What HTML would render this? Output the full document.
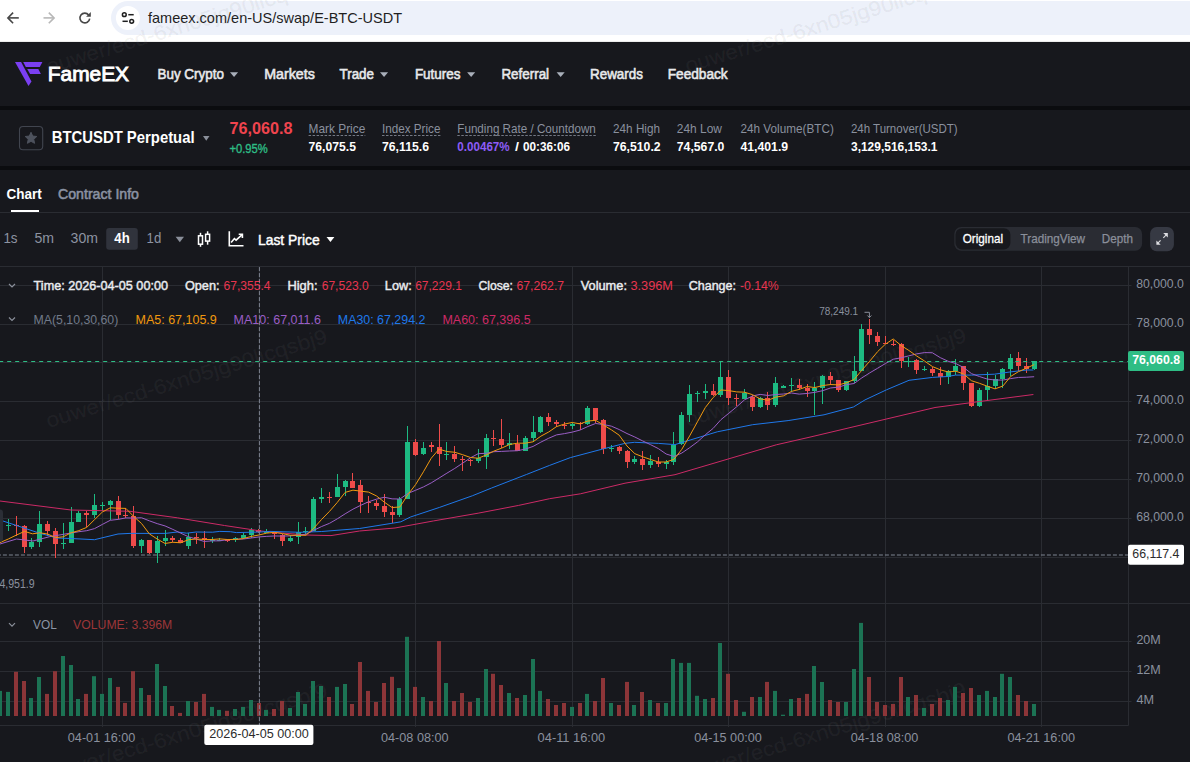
<!DOCTYPE html>
<html><head><meta charset="utf-8"><style>
html,body{margin:0;padding:0;background:#17181d;overflow:hidden;}
svg{display:block;font-family:"Liberation Sans",sans-serif;}
</style></head><body>
<svg width="1190" height="762" viewBox="0 0 1190 762">
<rect x="0" y="0" width="1190" height="762" fill="#17181d"/>
<rect x="0.00" y="0.00" width="1190.00" height="42.00" fill="#ffffff"/>
<rect x="0.00" y="41.00" width="1190.00" height="1.00" fill="#ececec"/>
<rect x="111.00" y="1.00" width="1200.00" height="34.00" fill="#edf1fa" rx="17.00"/>
<circle cx="127.9" cy="17.9" r="12" fill="#ffffff"/>
<g stroke="#1f1f1f" stroke-width="1.5" fill="none"><circle cx="124.3" cy="14.7" r="1.9"/><line x1="128.3" y1="14.7" x2="133.7" y2="14.7"/><circle cx="131.7" cy="21.3" r="1.9"/><line x1="122.5" y1="21.3" x2="127.8" y2="21.3"/></g>
<g stroke="#474747" stroke-width="1.6" fill="none" stroke-linecap="butt"><line x1="8" y1="17.9" x2="18.8" y2="17.9"/><polyline points="13.1,12.6 7.9,17.9 13.1,23.2"/></g>
<g stroke="#b8b8b8" stroke-width="1.6" fill="none" stroke-linecap="butt"><line x1="43.5" y1="17.9" x2="54" y2="17.9"/><polyline points="48.8,12.6 54.1,17.9 48.8,23.2"/></g>
<path d="M 89.71 18.66 A 4.9 4.9 0 1 1 88.67 14.90" stroke="#474747" stroke-width="1.6" fill="none"/><path d="M 90.8 12 L 90.8 16.7 L 86.1 16.7 Z" fill="#474747"/>
<text x="148.00" y="22.80" font-size="14.50" fill="#1f1f1f" textLength="254.00" lengthAdjust="spacingAndGlyphs">fameex.com/en-US/swap/E-BTC-USDT</text>
<rect x="0.00" y="42.00" width="1190.00" height="64.00" fill="#17181d"/>
<rect x="0.00" y="106.00" width="1190.00" height="4.00" fill="#0b0c0f"/>
<g fill="#7b3ff2"><polygon points="15,61.9 21.1,61.9 31.5,81.5 28.5,86"/><polygon points="23.2,61.9 42.4,61.9 39.8,66.9 25.8,66.9"/><polygon points="27.2,69 38.3,69 40.9,74 30.1,74"/></g>
<text x="47.80" y="80.80" font-size="20.50" fill="#ffffff" textLength="81.20" lengthAdjust="spacingAndGlyphs" stroke="#ffffff" stroke-width="0.90">FameEX</text>
<text x="157.50" y="79.40" font-size="15.40" fill="#e8e9eb" textLength="66.40" lengthAdjust="spacingAndGlyphs" stroke="#e8e9eb" stroke-width="0.60">Buy Crypto</text>
<polygon points="230.00,72.20 238.10,72.20 234.05,77.10" fill="#a9afba"/>
<text x="264.20" y="79.40" font-size="15.40" fill="#e8e9eb" textLength="50.60" lengthAdjust="spacingAndGlyphs" stroke="#e8e9eb" stroke-width="0.60">Markets</text>
<text x="339.50" y="79.40" font-size="15.40" fill="#e8e9eb" textLength="34.50" lengthAdjust="spacingAndGlyphs" stroke="#e8e9eb" stroke-width="0.60">Trade</text>
<polygon points="380.00,72.20 388.10,72.20 384.05,77.10" fill="#a9afba"/>
<text x="414.90" y="79.40" font-size="15.40" fill="#e8e9eb" textLength="45.70" lengthAdjust="spacingAndGlyphs" stroke="#e8e9eb" stroke-width="0.60">Futures</text>
<polygon points="467.10,72.20 475.20,72.20 471.15,77.10" fill="#a9afba"/>
<text x="501.40" y="79.40" font-size="15.40" fill="#e8e9eb" textLength="47.70" lengthAdjust="spacingAndGlyphs" stroke="#e8e9eb" stroke-width="0.60">Referral</text>
<polygon points="556.60,72.20 564.70,72.20 560.65,77.10" fill="#a9afba"/>
<text x="590.00" y="79.40" font-size="15.40" fill="#e8e9eb" textLength="52.90" lengthAdjust="spacingAndGlyphs" stroke="#e8e9eb" stroke-width="0.60">Rewards</text>
<text x="667.70" y="79.40" font-size="15.40" fill="#e8e9eb" textLength="60.00" lengthAdjust="spacingAndGlyphs" stroke="#e8e9eb" stroke-width="0.60">Feedback</text>
<rect x="0.00" y="166.00" width="1190.00" height="4.00" fill="#0b0c0f"/>
<rect x="19.50" y="126.50" width="23.20" height="23.20" fill="none" rx="3.50" stroke="#41454f" stroke-width="1.1"/>
<polygon points="31.00,132.30 32.70,136.05 36.80,136.51 33.76,139.30 34.59,143.34 31.00,141.30 27.41,143.34 28.24,139.30 25.20,136.51 29.30,136.05" fill="#4d525d" stroke="#4d525d" stroke-width="1" stroke-linejoin="round"/>
<text x="51.70" y="142.80" font-size="16.50" fill="#ffffff" font-weight="bold" textLength="142.90" lengthAdjust="spacingAndGlyphs">BTCUSDT Perpetual</text>
<polygon points="203.00,136.00 209.50,136.00 206.25,140.80" fill="#8a8f9a"/>
<text x="229.40" y="134.00" font-size="16.50" fill="#f0444e" font-weight="bold" textLength="63.00" lengthAdjust="spacingAndGlyphs">76,060.8</text>
<text x="229.40" y="153.40" font-size="12.00" fill="#2ebd85" textLength="38.30" lengthAdjust="spacingAndGlyphs" stroke="#2ebd85" stroke-width="0.35">+0.95%</text>
<text x="308.60" y="133.00" font-size="12.60" fill="#8a909d" textLength="56.70" lengthAdjust="spacingAndGlyphs">Mark Price</text>
<line x1="308.60" y1="135.50" x2="365.30" y2="135.50" stroke="#747985" stroke-width="1.00" stroke-dasharray="2.5 1.5"/>
<text x="382.00" y="133.00" font-size="12.60" fill="#8a909d" textLength="58.40" lengthAdjust="spacingAndGlyphs">Index Price</text>
<line x1="382.00" y1="135.50" x2="440.40" y2="135.50" stroke="#747985" stroke-width="1.00" stroke-dasharray="2.5 1.5"/>
<text x="457.30" y="133.00" font-size="12.60" fill="#8a909d" textLength="138.50" lengthAdjust="spacingAndGlyphs">Funding Rate / Countdown</text>
<line x1="457.30" y1="135.50" x2="595.80" y2="135.50" stroke="#747985" stroke-width="1.00" stroke-dasharray="2.5 1.5"/>
<text x="613.10" y="133.00" font-size="12.60" fill="#8a909d" textLength="46.90" lengthAdjust="spacingAndGlyphs">24h High</text>
<text x="676.80" y="133.00" font-size="12.60" fill="#8a909d" textLength="45.10" lengthAdjust="spacingAndGlyphs">24h Low</text>
<text x="740.50" y="133.00" font-size="12.60" fill="#8a909d" textLength="93.30" lengthAdjust="spacingAndGlyphs">24h Volume(BTC)</text>
<text x="850.90" y="133.00" font-size="12.60" fill="#8a909d" textLength="106.70" lengthAdjust="spacingAndGlyphs">24h Turnover(USDT)</text>
<text x="308.60" y="151.10" font-size="12.75" fill="#ffffff" font-weight="bold" textLength="47.30" lengthAdjust="spacingAndGlyphs">76,075.5</text>
<text x="382.00" y="151.10" font-size="12.75" fill="#ffffff" font-weight="bold" textLength="47.00" lengthAdjust="spacingAndGlyphs">76,115.6</text>
<text x="457.30" y="151.10" font-size="12.75" fill="#8d5cf6" font-weight="bold" textLength="52.40" lengthAdjust="spacingAndGlyphs">0.00467%</text>
<text x="515.00" y="151.10" font-size="12.75" fill="#ffffff" font-weight="bold" textLength="4.00" lengthAdjust="spacingAndGlyphs">/</text>
<text x="523.00" y="151.10" font-size="12.75" fill="#ffffff" font-weight="bold" textLength="47.00" lengthAdjust="spacingAndGlyphs">00:36:06</text>
<text x="613.00" y="151.10" font-size="12.75" fill="#ffffff" font-weight="bold" textLength="47.60" lengthAdjust="spacingAndGlyphs">76,510.2</text>
<text x="676.80" y="151.10" font-size="12.75" fill="#ffffff" font-weight="bold" textLength="47.60" lengthAdjust="spacingAndGlyphs">74,567.0</text>
<text x="740.50" y="151.10" font-size="12.75" fill="#ffffff" font-weight="bold" textLength="47.60" lengthAdjust="spacingAndGlyphs">41,401.9</text>
<text x="851.00" y="151.10" font-size="12.75" fill="#ffffff" font-weight="bold" textLength="86.40" lengthAdjust="spacingAndGlyphs">3,129,516,153.1</text>
<text x="6.50" y="198.80" font-size="14.20" fill="#ffffff" font-weight="bold" textLength="35.30" lengthAdjust="spacingAndGlyphs">Chart</text>
<text x="58.00" y="198.80" font-size="14.20" fill="#8b92a2" textLength="81.00" lengthAdjust="spacingAndGlyphs" stroke="#8b92a2" stroke-width="0.55">Contract Info</text>
<rect x="11.00" y="210.00" width="28.00" height="2.00" fill="#ffffff"/>
<rect x="0.00" y="212.00" width="1190.00" height="1.00" fill="#2a2c32"/>
<text x="3.40" y="243.00" font-size="14.60" fill="#8d93a1" textLength="14.20" lengthAdjust="spacingAndGlyphs">1s</text>
<text x="34.50" y="243.00" font-size="14.60" fill="#8d93a1" textLength="19.60" lengthAdjust="spacingAndGlyphs">5m</text>
<text x="70.60" y="243.00" font-size="14.60" fill="#8d93a1" textLength="27.40" lengthAdjust="spacingAndGlyphs">30m</text>
<rect x="106.20" y="227.90" width="31.60" height="21.80" fill="#30333c" rx="3.00"/>
<text x="114.30" y="243.00" font-size="14.60" fill="#ffffff" font-weight="bold" textLength="15.40" lengthAdjust="spacingAndGlyphs">4h</text>
<text x="146.60" y="243.00" font-size="14.60" fill="#8d93a1" textLength="14.70" lengthAdjust="spacingAndGlyphs">1d</text>
<polygon points="175.60,236.80 184.00,236.80 179.80,242.20" fill="#8a8f9a"/>
<g stroke="#ffffff" stroke-width="1.5" fill="none"><rect x="198.5" y="235.8" width="4" height="8.4"/><line x1="200.5" y1="232.8" x2="200.5" y2="235.8"/><line x1="200.5" y1="244.2" x2="200.5" y2="246.8"/><rect x="205.6" y="234.3" width="4" height="6.8"/><line x1="207.6" y1="231.3" x2="207.6" y2="234.3"/><line x1="207.6" y1="241.1" x2="207.6" y2="244.7"/></g>
<g stroke="#ffffff" stroke-width="1.6" fill="none"><polyline points="229.3,231.3 229.3,245.7 243.5,245.7"/><polyline points="231.1,242.6 234.4,238.6 236.1,240.1 241.9,234.8"/><polyline points="238.7,234.3 242.4,234.3 242.4,237.9"/></g>
<text x="258.00" y="245.00" font-size="14.90" fill="#ffffff" textLength="61.70" lengthAdjust="spacingAndGlyphs" stroke="#ffffff" stroke-width="0.45">Last Price</text>
<polygon points="326.50,237.00 334.40,237.00 330.45,242.00" fill="#ffffff"/>
<rect x="954.30" y="227.00" width="187.80" height="23.70" fill="#2a2c33" rx="7.00"/>
<rect x="955.50" y="228.20" width="54.90" height="21.30" fill="#17181d" rx="6.50"/>
<text x="962.70" y="243.20" font-size="12.60" fill="#ffffff" textLength="40.30" lengthAdjust="spacingAndGlyphs" stroke="#ffffff" stroke-width="0.30">Original</text>
<text x="1020.50" y="243.20" font-size="12.60" fill="#8a8f9a" textLength="64.50" lengthAdjust="spacingAndGlyphs" stroke="#8a8f9a" stroke-width="0.25">TradingView</text>
<text x="1101.80" y="243.20" font-size="12.60" fill="#8a8f9a" textLength="31.10" lengthAdjust="spacingAndGlyphs" stroke="#8a8f9a" stroke-width="0.25">Depth</text>
<rect x="1150.10" y="227.00" width="23.80" height="24.20" fill="#363943" rx="6.50"/>
<g fill="#dcdde1"><polygon points="1163.2,233.1 1167.8,233.1 1167.8,237.5"/><polygon points="1156.4,240.5 1156.4,244.8 1160.7,244.8"/></g><g stroke="#dcdde1" stroke-width="1.1"><line x1="1163.3" y1="237.8" x2="1166" y2="235.1"/><line x1="1160.6" y1="240.3" x2="1157.8" y2="243.1"/></g>
<rect x="0.00" y="266.00" width="1190.00" height="1.00" fill="#2a2c32"/>
<line x1="102.50" y1="266.00" x2="102.50" y2="727.00" stroke="#2a2c32" stroke-width="1.00"/>
<line x1="259.50" y1="266.00" x2="259.50" y2="727.00" stroke="#2a2c32" stroke-width="1.00"/>
<line x1="415.50" y1="266.00" x2="415.50" y2="727.00" stroke="#2a2c32" stroke-width="1.00"/>
<line x1="572.50" y1="266.00" x2="572.50" y2="727.00" stroke="#2a2c32" stroke-width="1.00"/>
<line x1="728.50" y1="266.00" x2="728.50" y2="727.00" stroke="#2a2c32" stroke-width="1.00"/>
<line x1="885.50" y1="266.00" x2="885.50" y2="727.00" stroke="#2a2c32" stroke-width="1.00"/>
<line x1="1041.50" y1="266.00" x2="1041.50" y2="727.00" stroke="#2a2c32" stroke-width="1.00"/>
<line x1="0.00" y1="285.50" x2="1131.50" y2="285.50" stroke="#2a2c32" stroke-width="1.00"/>
<line x1="0.00" y1="324.50" x2="1131.50" y2="324.50" stroke="#2a2c32" stroke-width="1.00"/>
<line x1="0.00" y1="362.50" x2="1131.50" y2="362.50" stroke="#2a2c32" stroke-width="1.00"/>
<line x1="0.00" y1="401.50" x2="1131.50" y2="401.50" stroke="#2a2c32" stroke-width="1.00"/>
<line x1="0.00" y1="440.50" x2="1131.50" y2="440.50" stroke="#2a2c32" stroke-width="1.00"/>
<line x1="0.00" y1="479.50" x2="1131.50" y2="479.50" stroke="#2a2c32" stroke-width="1.00"/>
<line x1="0.00" y1="518.50" x2="1131.50" y2="518.50" stroke="#2a2c32" stroke-width="1.00"/>
<line x1="0.00" y1="557.50" x2="1131.50" y2="557.50" stroke="#2a2c32" stroke-width="1.00"/>
<rect x="0.00" y="603.00" width="1190.00" height="1.00" fill="#2a2c32"/>
<line x1="0.00" y1="641.50" x2="1131.50" y2="641.50" stroke="#2a2c32" stroke-width="1.00"/>
<line x1="0.00" y1="671.50" x2="1131.50" y2="671.50" stroke="#2a2c32" stroke-width="1.00"/>
<line x1="0.00" y1="701.50" x2="1131.50" y2="701.50" stroke="#2a2c32" stroke-width="1.00"/>
<line x1="0.00" y1="725.50" x2="1128.50" y2="725.50" stroke="#2a2c32" stroke-width="1.00"/>
<line x1="1128.50" y1="266.00" x2="1128.50" y2="725.50" stroke="#2a2c32" stroke-width="1.00"/>
<text x="48.5" y="74.0" font-size="20.5" fill="#808080" fill-opacity="0.09" stroke="#808080" stroke-opacity="0.06" stroke-width="0.5" transform="rotate(-17 48.5 74.0)" textLength="293" lengthAdjust="spacingAndGlyphs">ouwer/ecd-6xn05jg90licqsbj9</text>
<text x="687.5" y="73.0" font-size="20.5" fill="#808080" fill-opacity="0.09" stroke="#808080" stroke-opacity="0.06" stroke-width="0.5" transform="rotate(-17 687.5 73.0)" textLength="293" lengthAdjust="spacingAndGlyphs">ouwer/ecd-6xn05jg90licqsbj9</text>
<text x="48.5" y="428.0" font-size="20.5" fill="#808080" fill-opacity="0.09" stroke="#808080" stroke-opacity="0.06" stroke-width="0.5" transform="rotate(-17 48.5 428.0)" textLength="293" lengthAdjust="spacingAndGlyphs">ouwer/ecd-6xn05jg90licqsbj9</text>
<text x="687.5" y="427.0" font-size="20.5" fill="#808080" fill-opacity="0.09" stroke="#808080" stroke-opacity="0.06" stroke-width="0.5" transform="rotate(-17 687.5 427.0)" textLength="293" lengthAdjust="spacingAndGlyphs">ouwer/ecd-6xn05jg90licqsbj9</text>
<text x="48.5" y="782.0" font-size="20.5" fill="#808080" fill-opacity="0.09" stroke="#808080" stroke-opacity="0.06" stroke-width="0.5" transform="rotate(-17 48.5 782.0)" textLength="293" lengthAdjust="spacingAndGlyphs">ouwer/ecd-6xn05jg90licqsbj9</text>
<text x="687.5" y="781.0" font-size="20.5" fill="#808080" fill-opacity="0.09" stroke="#808080" stroke-opacity="0.06" stroke-width="0.5" transform="rotate(-17 687.5 781.0)" textLength="293" lengthAdjust="spacingAndGlyphs">ouwer/ecd-6xn05jg90licqsbj9</text>
<rect x="-2.00" y="690.90" width="4.00" height="25.10" fill="#1c7354"/>
<rect x="6.00" y="691.90" width="4.00" height="24.10" fill="#1c7354"/>
<rect x="14.00" y="671.80" width="4.00" height="44.20" fill="#8c3538"/>
<rect x="22.00" y="681.00" width="4.00" height="35.00" fill="#8c3538"/>
<rect x="29.00" y="698.00" width="4.00" height="18.00" fill="#1c7354"/>
<rect x="37.00" y="677.00" width="4.00" height="39.00" fill="#1c7354"/>
<rect x="45.00" y="693.90" width="4.00" height="22.10" fill="#8c3538"/>
<rect x="53.00" y="671.20" width="4.00" height="44.80" fill="#8c3538"/>
<rect x="61.00" y="656.00" width="4.00" height="60.00" fill="#1c7354"/>
<rect x="69.00" y="665.00" width="4.00" height="51.00" fill="#1c7354"/>
<rect x="76.00" y="699.00" width="4.00" height="17.00" fill="#1c7354"/>
<rect x="84.00" y="693.90" width="4.00" height="22.10" fill="#8c3538"/>
<rect x="92.00" y="676.20" width="4.00" height="39.80" fill="#1c7354"/>
<rect x="100.00" y="693.90" width="4.00" height="22.10" fill="#1c7354"/>
<rect x="108.00" y="678.00" width="4.00" height="38.00" fill="#1c7354"/>
<rect x="116.00" y="686.90" width="4.00" height="29.10" fill="#8c3538"/>
<rect x="123.00" y="702.90" width="4.00" height="13.10" fill="#8c3538"/>
<rect x="131.00" y="671.20" width="4.00" height="44.80" fill="#8c3538"/>
<rect x="139.00" y="688.00" width="4.00" height="28.00" fill="#1c7354"/>
<rect x="147.00" y="695.00" width="4.00" height="21.00" fill="#8c3538"/>
<rect x="155.00" y="664.00" width="4.00" height="52.00" fill="#1c7354"/>
<rect x="163.00" y="686.00" width="4.00" height="30.00" fill="#1c7354"/>
<rect x="170.00" y="706.00" width="4.00" height="10.00" fill="#8c3538"/>
<rect x="178.00" y="712.90" width="4.00" height="3.10" fill="#8c3538"/>
<rect x="186.00" y="701.00" width="4.00" height="15.00" fill="#1c7354"/>
<rect x="194.00" y="702.00" width="4.00" height="14.00" fill="#8c3538"/>
<rect x="202.00" y="693.90" width="4.00" height="22.10" fill="#8c3538"/>
<rect x="210.00" y="706.90" width="4.00" height="9.10" fill="#1c7354"/>
<rect x="217.00" y="709.90" width="4.00" height="6.10" fill="#1c7354"/>
<rect x="225.00" y="710.80" width="4.00" height="5.20" fill="#8c3538"/>
<rect x="233.00" y="709.00" width="4.00" height="7.00" fill="#1c7354"/>
<rect x="241.00" y="706.90" width="4.00" height="9.10" fill="#1c7354"/>
<rect x="249.00" y="700.00" width="4.00" height="16.00" fill="#1c7354"/>
<rect x="257.00" y="703.00" width="4.00" height="13.00" fill="#8c3538"/>
<rect x="264.00" y="709.90" width="4.00" height="6.10" fill="#1c7354"/>
<rect x="272.00" y="709.00" width="4.00" height="7.00" fill="#8c3538"/>
<rect x="280.00" y="701.00" width="4.00" height="15.00" fill="#8c3538"/>
<rect x="288.00" y="708.00" width="4.00" height="8.00" fill="#1c7354"/>
<rect x="296.00" y="692.00" width="4.00" height="24.00" fill="#1c7354"/>
<rect x="303.00" y="704.00" width="4.00" height="12.00" fill="#1c7354"/>
<rect x="311.00" y="681.00" width="4.00" height="35.00" fill="#1c7354"/>
<rect x="319.00" y="686.00" width="4.00" height="30.00" fill="#1c7354"/>
<rect x="327.00" y="697.00" width="4.00" height="19.00" fill="#8c3538"/>
<rect x="335.00" y="686.90" width="4.00" height="29.10" fill="#1c7354"/>
<rect x="343.00" y="684.00" width="4.00" height="32.00" fill="#1c7354"/>
<rect x="350.00" y="704.00" width="4.00" height="12.00" fill="#8c3538"/>
<rect x="358.00" y="662.00" width="4.00" height="54.00" fill="#8c3538"/>
<rect x="366.00" y="690.90" width="4.00" height="25.10" fill="#8c3538"/>
<rect x="374.00" y="702.00" width="4.00" height="14.00" fill="#8c3538"/>
<rect x="382.00" y="683.00" width="4.00" height="33.00" fill="#8c3538"/>
<rect x="390.00" y="676.80" width="4.00" height="39.20" fill="#8c3538"/>
<rect x="397.00" y="688.00" width="4.00" height="28.00" fill="#1c7354"/>
<rect x="405.00" y="636.80" width="4.00" height="79.20" fill="#1c7354"/>
<rect x="413.00" y="686.90" width="4.00" height="29.10" fill="#8c3538"/>
<rect x="421.00" y="697.00" width="4.00" height="19.00" fill="#1c7354"/>
<rect x="429.00" y="701.00" width="4.00" height="15.00" fill="#8c3538"/>
<rect x="437.00" y="641.00" width="4.00" height="75.00" fill="#8c3538"/>
<rect x="444.00" y="683.00" width="4.00" height="33.00" fill="#1c7354"/>
<rect x="452.00" y="701.00" width="4.00" height="15.00" fill="#8c3538"/>
<rect x="460.00" y="693.00" width="4.00" height="23.00" fill="#8c3538"/>
<rect x="468.00" y="702.00" width="4.00" height="14.00" fill="#8c3538"/>
<rect x="476.00" y="698.00" width="4.00" height="18.00" fill="#1c7354"/>
<rect x="484.00" y="669.00" width="4.00" height="47.00" fill="#1c7354"/>
<rect x="491.00" y="673.80" width="4.00" height="42.20" fill="#8c3538"/>
<rect x="499.00" y="685.00" width="4.00" height="31.00" fill="#8c3538"/>
<rect x="507.00" y="693.00" width="4.00" height="23.00" fill="#1c7354"/>
<rect x="515.00" y="698.00" width="4.00" height="18.00" fill="#8c3538"/>
<rect x="523.00" y="695.00" width="4.00" height="21.00" fill="#1c7354"/>
<rect x="531.00" y="659.00" width="4.00" height="57.00" fill="#1c7354"/>
<rect x="538.00" y="690.90" width="4.00" height="25.10" fill="#1c7354"/>
<rect x="546.00" y="699.00" width="4.00" height="17.00" fill="#8c3538"/>
<rect x="554.00" y="705.00" width="4.00" height="11.00" fill="#8c3538"/>
<rect x="562.00" y="703.00" width="4.00" height="13.00" fill="#8c3538"/>
<rect x="570.00" y="706.90" width="4.00" height="9.10" fill="#1c7354"/>
<rect x="578.00" y="703.00" width="4.00" height="13.00" fill="#8c3538"/>
<rect x="585.00" y="693.90" width="4.00" height="22.10" fill="#1c7354"/>
<rect x="593.00" y="701.00" width="4.00" height="15.00" fill="#8c3538"/>
<rect x="601.00" y="678.00" width="4.00" height="38.00" fill="#8c3538"/>
<rect x="609.00" y="703.00" width="4.00" height="13.00" fill="#1c7354"/>
<rect x="617.00" y="705.00" width="4.00" height="11.00" fill="#8c3538"/>
<rect x="625.00" y="681.90" width="4.00" height="34.10" fill="#8c3538"/>
<rect x="632.00" y="705.00" width="4.00" height="11.00" fill="#1c7354"/>
<rect x="640.00" y="692.00" width="4.00" height="24.00" fill="#8c3538"/>
<rect x="648.00" y="700.00" width="4.00" height="16.00" fill="#1c7354"/>
<rect x="656.00" y="703.00" width="4.00" height="13.00" fill="#8c3538"/>
<rect x="664.00" y="703.00" width="4.00" height="13.00" fill="#1c7354"/>
<rect x="671.00" y="659.00" width="4.00" height="57.00" fill="#1c7354"/>
<rect x="679.00" y="662.90" width="4.00" height="53.10" fill="#1c7354"/>
<rect x="687.00" y="662.90" width="4.00" height="53.10" fill="#1c7354"/>
<rect x="695.00" y="695.80" width="4.00" height="20.20" fill="#1c7354"/>
<rect x="703.00" y="699.00" width="4.00" height="17.00" fill="#1c7354"/>
<rect x="711.00" y="698.00" width="4.00" height="18.00" fill="#8c3538"/>
<rect x="718.00" y="643.00" width="4.00" height="73.00" fill="#1c7354"/>
<rect x="726.00" y="673.80" width="4.00" height="42.20" fill="#8c3538"/>
<rect x="734.00" y="700.00" width="4.00" height="16.00" fill="#8c3538"/>
<rect x="742.00" y="711.80" width="4.00" height="4.20" fill="#1c7354"/>
<rect x="750.00" y="697.00" width="4.00" height="19.00" fill="#8c3538"/>
<rect x="758.00" y="697.00" width="4.00" height="19.00" fill="#1c7354"/>
<rect x="765.00" y="681.90" width="4.00" height="34.10" fill="#8c3538"/>
<rect x="773.00" y="690.90" width="4.00" height="25.10" fill="#1c7354"/>
<rect x="781.00" y="714.70" width="4.00" height="1.30" fill="#1c7354"/>
<rect x="789.00" y="699.00" width="4.00" height="17.00" fill="#1c7354"/>
<rect x="797.00" y="698.00" width="4.00" height="18.00" fill="#8c3538"/>
<rect x="805.00" y="693.90" width="4.00" height="22.10" fill="#8c3538"/>
<rect x="812.00" y="666.00" width="4.00" height="50.00" fill="#1c7354"/>
<rect x="820.00" y="682.00" width="4.00" height="34.00" fill="#1c7354"/>
<rect x="828.00" y="700.00" width="4.00" height="16.00" fill="#8c3538"/>
<rect x="836.00" y="702.00" width="4.00" height="14.00" fill="#8c3538"/>
<rect x="844.00" y="702.00" width="4.00" height="14.00" fill="#1c7354"/>
<rect x="852.00" y="669.00" width="4.00" height="47.00" fill="#1c7354"/>
<rect x="859.00" y="622.90" width="4.00" height="93.10" fill="#1c7354"/>
<rect x="867.00" y="677.00" width="4.00" height="39.00" fill="#8c3538"/>
<rect x="875.00" y="702.00" width="4.00" height="14.00" fill="#8c3538"/>
<rect x="883.00" y="705.00" width="4.00" height="11.00" fill="#8c3538"/>
<rect x="891.00" y="704.00" width="4.00" height="12.00" fill="#8c3538"/>
<rect x="899.00" y="677.00" width="4.00" height="39.00" fill="#8c3538"/>
<rect x="906.00" y="697.00" width="4.00" height="19.00" fill="#1c7354"/>
<rect x="914.00" y="695.00" width="4.00" height="21.00" fill="#8c3538"/>
<rect x="922.00" y="708.00" width="4.00" height="8.00" fill="#1c7354"/>
<rect x="930.00" y="704.00" width="4.00" height="12.00" fill="#8c3538"/>
<rect x="938.00" y="698.00" width="4.00" height="18.00" fill="#8c3538"/>
<rect x="946.00" y="700.00" width="4.00" height="16.00" fill="#1c7354"/>
<rect x="953.00" y="686.90" width="4.00" height="29.10" fill="#1c7354"/>
<rect x="961.00" y="693.00" width="4.00" height="23.00" fill="#8c3538"/>
<rect x="969.00" y="688.00" width="4.00" height="28.00" fill="#8c3538"/>
<rect x="977.00" y="695.00" width="4.00" height="21.00" fill="#1c7354"/>
<rect x="985.00" y="690.90" width="4.00" height="25.10" fill="#1c7354"/>
<rect x="993.00" y="697.00" width="4.00" height="19.00" fill="#1c7354"/>
<rect x="1000.00" y="673.80" width="4.00" height="42.20" fill="#1c7354"/>
<rect x="1008.00" y="677.00" width="4.00" height="39.00" fill="#1c7354"/>
<rect x="1016.00" y="695.00" width="4.00" height="21.00" fill="#8c3538"/>
<rect x="1024.00" y="701.00" width="4.00" height="15.00" fill="#8c3538"/>
<rect x="1032.00" y="704.00" width="4.00" height="12.00" fill="#1c7354"/>
<g shape-rendering="crispEdges">
<rect x="8.00" y="519.00" width="1.00" height="12.00" fill="#1dba82"/>
<rect x="6.00" y="525.00" width="5.00" height="1.00" fill="#1dba82"/>
<rect x="16.00" y="516.00" width="1.00" height="19.50" fill="#ee4b4a"/>
<rect x="14.00" y="525.00" width="5.00" height="1.00" fill="#ee4b4a"/>
<rect x="24.00" y="525.00" width="1.00" height="28.00" fill="#ee4b4a"/>
<rect x="22.00" y="526.00" width="5.00" height="21.00" fill="#ee4b4a"/>
<rect x="31.00" y="538.00" width="1.00" height="11.00" fill="#1dba82"/>
<rect x="29.00" y="542.00" width="5.00" height="5.00" fill="#1dba82"/>
<rect x="39.00" y="511.00" width="1.00" height="36.00" fill="#1dba82"/>
<rect x="37.00" y="524.00" width="5.00" height="17.70" fill="#1dba82"/>
<rect x="47.00" y="521.00" width="1.00" height="14.50" fill="#ee4b4a"/>
<rect x="45.00" y="524.00" width="5.00" height="7.00" fill="#ee4b4a"/>
<rect x="55.00" y="528.00" width="1.00" height="30.00" fill="#ee4b4a"/>
<rect x="53.00" y="531.00" width="5.00" height="13.00" fill="#ee4b4a"/>
<rect x="63.00" y="523.00" width="1.00" height="26.00" fill="#1dba82"/>
<rect x="61.00" y="543.00" width="5.00" height="1.00" fill="#1dba82"/>
<rect x="71.00" y="507.00" width="1.00" height="36.00" fill="#1dba82"/>
<rect x="69.00" y="522.00" width="5.00" height="21.00" fill="#1dba82"/>
<rect x="78.00" y="511.00" width="1.00" height="11.00" fill="#1dba82"/>
<rect x="76.00" y="513.00" width="5.00" height="9.00" fill="#1dba82"/>
<rect x="86.00" y="511.00" width="1.00" height="16.00" fill="#ee4b4a"/>
<rect x="84.00" y="513.40" width="5.00" height="1.60" fill="#ee4b4a"/>
<rect x="94.00" y="494.00" width="1.00" height="24.00" fill="#1dba82"/>
<rect x="92.00" y="505.00" width="5.00" height="10.00" fill="#1dba82"/>
<rect x="102.00" y="502.00" width="1.00" height="9.00" fill="#1dba82"/>
<rect x="100.00" y="505.00" width="5.00" height="1.00" fill="#1dba82"/>
<rect x="110.00" y="500.00" width="1.00" height="20.00" fill="#1dba82"/>
<rect x="108.00" y="501.00" width="5.00" height="4.00" fill="#1dba82"/>
<rect x="118.00" y="496.00" width="1.00" height="23.00" fill="#ee4b4a"/>
<rect x="116.00" y="501.00" width="5.00" height="14.00" fill="#ee4b4a"/>
<rect x="125.00" y="508.00" width="1.00" height="10.00" fill="#ee4b4a"/>
<rect x="123.00" y="515.00" width="5.00" height="1.00" fill="#ee4b4a"/>
<rect x="133.00" y="506.00" width="1.00" height="42.00" fill="#ee4b4a"/>
<rect x="131.00" y="516.00" width="5.00" height="29.60" fill="#ee4b4a"/>
<rect x="141.00" y="539.00" width="1.00" height="14.00" fill="#1dba82"/>
<rect x="139.00" y="540.00" width="5.00" height="6.00" fill="#1dba82"/>
<rect x="149.00" y="540.00" width="1.00" height="14.00" fill="#ee4b4a"/>
<rect x="147.00" y="540.00" width="5.00" height="12.70" fill="#ee4b4a"/>
<rect x="157.00" y="536.00" width="1.00" height="26.70" fill="#1dba82"/>
<rect x="155.00" y="541.00" width="5.00" height="11.70" fill="#1dba82"/>
<rect x="165.00" y="530.00" width="1.00" height="15.60" fill="#1dba82"/>
<rect x="163.00" y="538.00" width="5.00" height="3.00" fill="#1dba82"/>
<rect x="172.00" y="536.00" width="1.00" height="6.00" fill="#ee4b4a"/>
<rect x="170.00" y="538.00" width="5.00" height="1.70" fill="#ee4b4a"/>
<rect x="180.00" y="538.00" width="1.00" height="5.00" fill="#ee4b4a"/>
<rect x="178.00" y="540.00" width="5.00" height="2.60" fill="#ee4b4a"/>
<rect x="188.00" y="533.00" width="1.00" height="15.80" fill="#1dba82"/>
<rect x="186.00" y="537.00" width="5.00" height="8.60" fill="#1dba82"/>
<rect x="196.00" y="533.00" width="1.00" height="11.00" fill="#ee4b4a"/>
<rect x="194.00" y="537.30" width="5.00" height="1.00" fill="#ee4b4a"/>
<rect x="204.00" y="531.00" width="1.00" height="17.00" fill="#ee4b4a"/>
<rect x="202.00" y="538.00" width="5.00" height="2.00" fill="#ee4b4a"/>
<rect x="212.00" y="537.00" width="1.00" height="6.00" fill="#1dba82"/>
<rect x="210.00" y="540.00" width="5.00" height="1.00" fill="#1dba82"/>
<rect x="219.00" y="538.00" width="1.00" height="3.00" fill="#1dba82"/>
<rect x="217.00" y="539.50" width="5.00" height="1.00" fill="#1dba82"/>
<rect x="227.00" y="539.00" width="1.00" height="3.00" fill="#ee4b4a"/>
<rect x="225.00" y="539.70" width="5.00" height="1.00" fill="#ee4b4a"/>
<rect x="235.00" y="537.00" width="1.00" height="5.00" fill="#1dba82"/>
<rect x="233.00" y="538.00" width="5.00" height="2.00" fill="#1dba82"/>
<rect x="243.00" y="533.00" width="1.00" height="6.00" fill="#1dba82"/>
<rect x="241.00" y="535.00" width="5.00" height="3.00" fill="#1dba82"/>
<rect x="251.00" y="528.40" width="1.00" height="9.60" fill="#1dba82"/>
<rect x="249.00" y="529.60" width="5.00" height="5.00" fill="#1dba82"/>
<rect x="258.00" y="529.00" width="1.00" height="3.60" fill="#ee4b4a"/>
<rect x="256.00" y="530.00" width="5.00" height="2.00" fill="#ee4b4a"/>
<rect x="266.00" y="529.00" width="1.00" height="4.00" fill="#1dba82"/>
<rect x="264.00" y="531.00" width="5.00" height="1.60" fill="#1dba82"/>
<rect x="274.00" y="531.50" width="1.00" height="7.50" fill="#ee4b4a"/>
<rect x="272.00" y="532.70" width="5.00" height="1.70" fill="#ee4b4a"/>
<rect x="282.00" y="533.80" width="1.00" height="12.20" fill="#ee4b4a"/>
<rect x="280.00" y="535.00" width="5.00" height="6.00" fill="#ee4b4a"/>
<rect x="290.00" y="535.00" width="1.00" height="6.80" fill="#1dba82"/>
<rect x="288.00" y="538.00" width="5.00" height="3.00" fill="#1dba82"/>
<rect x="298.00" y="522.00" width="1.00" height="22.00" fill="#1dba82"/>
<rect x="296.00" y="532.00" width="5.00" height="5.40" fill="#1dba82"/>
<rect x="305.00" y="527.00" width="1.00" height="7.40" fill="#1dba82"/>
<rect x="303.00" y="531.00" width="5.00" height="1.00" fill="#1dba82"/>
<rect x="313.00" y="497.00" width="1.00" height="34.00" fill="#1dba82"/>
<rect x="311.00" y="499.00" width="5.00" height="32.00" fill="#1dba82"/>
<rect x="321.00" y="488.00" width="1.00" height="14.80" fill="#1dba82"/>
<rect x="319.00" y="497.00" width="5.00" height="1.80" fill="#1dba82"/>
<rect x="329.00" y="492.00" width="1.00" height="10.80" fill="#ee4b4a"/>
<rect x="327.00" y="497.00" width="5.00" height="1.00" fill="#ee4b4a"/>
<rect x="337.00" y="474.00" width="1.00" height="22.60" fill="#1dba82"/>
<rect x="335.00" y="487.00" width="5.00" height="9.60" fill="#1dba82"/>
<rect x="345.00" y="480.00" width="1.00" height="15.70" fill="#1dba82"/>
<rect x="343.00" y="481.00" width="5.00" height="6.00" fill="#1dba82"/>
<rect x="352.00" y="472.80" width="1.00" height="15.00" fill="#ee4b4a"/>
<rect x="350.00" y="481.00" width="5.00" height="6.80" fill="#ee4b4a"/>
<rect x="360.00" y="480.00" width="1.00" height="33.00" fill="#ee4b4a"/>
<rect x="358.00" y="485.00" width="5.00" height="17.00" fill="#ee4b4a"/>
<rect x="368.00" y="496.00" width="1.00" height="17.00" fill="#ee4b4a"/>
<rect x="366.00" y="502.00" width="5.00" height="1.00" fill="#ee4b4a"/>
<rect x="376.00" y="499.60" width="1.00" height="10.40" fill="#ee4b4a"/>
<rect x="374.00" y="503.00" width="5.00" height="3.00" fill="#ee4b4a"/>
<rect x="384.00" y="494.00" width="1.00" height="23.00" fill="#ee4b4a"/>
<rect x="382.00" y="506.00" width="5.00" height="6.00" fill="#ee4b4a"/>
<rect x="392.00" y="506.00" width="1.00" height="16.80" fill="#ee4b4a"/>
<rect x="390.00" y="512.00" width="5.00" height="3.00" fill="#ee4b4a"/>
<rect x="399.00" y="497.00" width="1.00" height="20.00" fill="#1dba82"/>
<rect x="397.00" y="499.00" width="5.00" height="16.00" fill="#1dba82"/>
<rect x="407.00" y="426.00" width="1.00" height="72.60" fill="#1dba82"/>
<rect x="405.00" y="441.90" width="5.00" height="56.70" fill="#1dba82"/>
<rect x="415.00" y="439.00" width="1.00" height="17.00" fill="#ee4b4a"/>
<rect x="413.00" y="442.00" width="5.00" height="13.00" fill="#ee4b4a"/>
<rect x="423.00" y="442.00" width="1.00" height="13.00" fill="#1dba82"/>
<rect x="421.00" y="448.00" width="5.00" height="6.00" fill="#1dba82"/>
<rect x="431.00" y="442.00" width="1.00" height="10.00" fill="#ee4b4a"/>
<rect x="429.00" y="445.00" width="5.00" height="2.00" fill="#ee4b4a"/>
<rect x="439.00" y="424.00" width="1.00" height="41.80" fill="#ee4b4a"/>
<rect x="437.00" y="447.00" width="5.00" height="6.70" fill="#ee4b4a"/>
<rect x="446.00" y="442.00" width="1.00" height="18.00" fill="#1dba82"/>
<rect x="444.00" y="454.00" width="5.00" height="1.00" fill="#1dba82"/>
<rect x="454.00" y="446.00" width="1.00" height="16.00" fill="#ee4b4a"/>
<rect x="452.00" y="454.00" width="5.00" height="4.70" fill="#ee4b4a"/>
<rect x="462.00" y="456.00" width="1.00" height="15.00" fill="#ee4b4a"/>
<rect x="460.00" y="459.00" width="5.00" height="1.00" fill="#ee4b4a"/>
<rect x="470.00" y="458.70" width="1.00" height="7.30" fill="#ee4b4a"/>
<rect x="468.00" y="460.00" width="5.00" height="1.00" fill="#ee4b4a"/>
<rect x="478.00" y="449.00" width="1.00" height="14.00" fill="#1dba82"/>
<rect x="476.00" y="457.50" width="5.00" height="3.10" fill="#1dba82"/>
<rect x="486.00" y="434.00" width="1.00" height="35.00" fill="#1dba82"/>
<rect x="484.00" y="438.00" width="5.00" height="18.70" fill="#1dba82"/>
<rect x="493.00" y="430.00" width="1.00" height="16.00" fill="#ee4b4a"/>
<rect x="491.00" y="437.80" width="5.00" height="1.20" fill="#ee4b4a"/>
<rect x="501.00" y="419.00" width="1.00" height="29.00" fill="#ee4b4a"/>
<rect x="499.00" y="439.00" width="5.00" height="6.00" fill="#ee4b4a"/>
<rect x="509.00" y="433.00" width="1.00" height="16.00" fill="#1dba82"/>
<rect x="507.00" y="443.00" width="5.00" height="2.00" fill="#1dba82"/>
<rect x="517.00" y="435.00" width="1.00" height="16.00" fill="#ee4b4a"/>
<rect x="515.00" y="444.00" width="5.00" height="7.00" fill="#ee4b4a"/>
<rect x="525.00" y="436.00" width="1.00" height="15.00" fill="#1dba82"/>
<rect x="523.00" y="438.00" width="5.00" height="13.00" fill="#1dba82"/>
<rect x="533.00" y="416.00" width="1.00" height="25.70" fill="#1dba82"/>
<rect x="531.00" y="432.00" width="5.00" height="5.80" fill="#1dba82"/>
<rect x="540.00" y="415.70" width="1.00" height="17.10" fill="#1dba82"/>
<rect x="538.00" y="416.90" width="5.00" height="15.30" fill="#1dba82"/>
<rect x="548.00" y="413.00" width="1.00" height="13.00" fill="#ee4b4a"/>
<rect x="546.00" y="416.90" width="5.00" height="5.10" fill="#ee4b4a"/>
<rect x="556.00" y="420.00" width="1.00" height="7.00" fill="#ee4b4a"/>
<rect x="554.00" y="422.00" width="5.00" height="2.00" fill="#ee4b4a"/>
<rect x="564.00" y="422.00" width="1.00" height="7.00" fill="#ee4b4a"/>
<rect x="562.00" y="424.50" width="5.00" height="1.00" fill="#ee4b4a"/>
<rect x="572.00" y="423.00" width="1.00" height="6.00" fill="#1dba82"/>
<rect x="570.00" y="424.00" width="5.00" height="2.00" fill="#1dba82"/>
<rect x="580.00" y="422.00" width="1.00" height="8.40" fill="#ee4b4a"/>
<rect x="578.00" y="423.00" width="5.00" height="1.00" fill="#ee4b4a"/>
<rect x="587.00" y="405.90" width="1.00" height="18.60" fill="#1dba82"/>
<rect x="585.00" y="407.80" width="5.00" height="16.20" fill="#1dba82"/>
<rect x="595.00" y="407.80" width="1.00" height="15.00" fill="#ee4b4a"/>
<rect x="593.00" y="407.80" width="5.00" height="12.60" fill="#ee4b4a"/>
<rect x="603.00" y="418.60" width="1.00" height="35.40" fill="#ee4b4a"/>
<rect x="601.00" y="419.80" width="5.00" height="29.50" fill="#ee4b4a"/>
<rect x="611.00" y="445.00" width="1.00" height="7.00" fill="#1dba82"/>
<rect x="609.00" y="447.60" width="5.00" height="1.20" fill="#1dba82"/>
<rect x="619.00" y="445.80" width="1.00" height="8.20" fill="#ee4b4a"/>
<rect x="617.00" y="446.70" width="5.00" height="4.10" fill="#ee4b4a"/>
<rect x="627.00" y="450.00" width="1.00" height="18.00" fill="#ee4b4a"/>
<rect x="625.00" y="450.80" width="5.00" height="11.20" fill="#ee4b4a"/>
<rect x="634.00" y="455.80" width="1.00" height="8.20" fill="#1dba82"/>
<rect x="632.00" y="458.80" width="5.00" height="3.00" fill="#1dba82"/>
<rect x="642.00" y="451.00" width="1.00" height="19.00" fill="#ee4b4a"/>
<rect x="640.00" y="458.80" width="5.00" height="5.90" fill="#ee4b4a"/>
<rect x="650.00" y="455.00" width="1.00" height="13.00" fill="#1dba82"/>
<rect x="648.00" y="461.00" width="5.00" height="3.70" fill="#1dba82"/>
<rect x="658.00" y="456.70" width="1.00" height="10.30" fill="#ee4b4a"/>
<rect x="656.00" y="461.80" width="5.00" height="1.70" fill="#ee4b4a"/>
<rect x="666.00" y="460.00" width="1.00" height="8.80" fill="#1dba82"/>
<rect x="664.00" y="462.00" width="5.00" height="1.50" fill="#1dba82"/>
<rect x="673.00" y="432.00" width="1.00" height="32.70" fill="#1dba82"/>
<rect x="671.00" y="445.00" width="5.00" height="16.80" fill="#1dba82"/>
<rect x="681.00" y="412.30" width="1.00" height="32.50" fill="#1dba82"/>
<rect x="679.00" y="415.00" width="5.00" height="28.60" fill="#1dba82"/>
<rect x="689.00" y="385.00" width="1.00" height="36.80" fill="#1dba82"/>
<rect x="687.00" y="394.00" width="5.00" height="20.70" fill="#1dba82"/>
<rect x="697.00" y="391.00" width="1.00" height="10.70" fill="#1dba82"/>
<rect x="695.00" y="392.80" width="5.00" height="1.00" fill="#1dba82"/>
<rect x="705.00" y="384.00" width="1.00" height="14.70" fill="#1dba82"/>
<rect x="703.00" y="391.00" width="5.00" height="1.80" fill="#1dba82"/>
<rect x="713.00" y="384.00" width="1.00" height="11.80" fill="#ee4b4a"/>
<rect x="711.00" y="391.00" width="5.00" height="4.00" fill="#ee4b4a"/>
<rect x="720.00" y="361.50" width="1.00" height="35.50" fill="#1dba82"/>
<rect x="718.00" y="376.90" width="5.00" height="17.70" fill="#1dba82"/>
<rect x="728.00" y="369.80" width="1.00" height="35.40" fill="#ee4b4a"/>
<rect x="726.00" y="376.90" width="5.00" height="20.60" fill="#ee4b4a"/>
<rect x="736.00" y="394.00" width="1.00" height="11.80" fill="#ee4b4a"/>
<rect x="734.00" y="398.00" width="5.00" height="1.00" fill="#ee4b4a"/>
<rect x="744.00" y="389.00" width="1.00" height="10.30" fill="#1dba82"/>
<rect x="742.00" y="392.60" width="5.00" height="6.10" fill="#1dba82"/>
<rect x="752.00" y="394.60" width="1.00" height="15.90" fill="#ee4b4a"/>
<rect x="750.00" y="397.00" width="5.00" height="10.00" fill="#ee4b4a"/>
<rect x="760.00" y="397.00" width="1.00" height="10.60" fill="#1dba82"/>
<rect x="758.00" y="398.00" width="5.00" height="9.00" fill="#1dba82"/>
<rect x="767.00" y="392.00" width="1.00" height="18.00" fill="#ee4b4a"/>
<rect x="765.00" y="398.00" width="5.00" height="7.00" fill="#ee4b4a"/>
<rect x="775.00" y="376.90" width="1.00" height="29.80" fill="#1dba82"/>
<rect x="773.00" y="383.00" width="5.00" height="22.00" fill="#1dba82"/>
<rect x="783.00" y="385.00" width="1.00" height="3.00" fill="#1dba82"/>
<rect x="781.00" y="386.00" width="5.00" height="2.00" fill="#1dba82"/>
<rect x="791.00" y="378.00" width="1.00" height="14.00" fill="#1dba82"/>
<rect x="789.00" y="385.00" width="5.00" height="1.00" fill="#1dba82"/>
<rect x="799.00" y="379.00" width="1.00" height="11.40" fill="#ee4b4a"/>
<rect x="797.00" y="385.00" width="5.00" height="3.00" fill="#ee4b4a"/>
<rect x="807.00" y="384.00" width="1.00" height="12.70" fill="#ee4b4a"/>
<rect x="805.00" y="388.00" width="5.00" height="2.80" fill="#ee4b4a"/>
<rect x="814.00" y="382.00" width="1.00" height="33.00" fill="#1dba82"/>
<rect x="812.00" y="388.00" width="5.00" height="2.80" fill="#1dba82"/>
<rect x="822.00" y="375.00" width="1.00" height="28.80" fill="#1dba82"/>
<rect x="820.00" y="375.90" width="5.00" height="11.80" fill="#1dba82"/>
<rect x="830.00" y="372.00" width="1.00" height="13.30" fill="#ee4b4a"/>
<rect x="828.00" y="376.00" width="5.00" height="4.00" fill="#ee4b4a"/>
<rect x="838.00" y="380.00" width="1.00" height="11.90" fill="#ee4b4a"/>
<rect x="836.00" y="380.00" width="5.00" height="9.60" fill="#ee4b4a"/>
<rect x="846.00" y="381.00" width="1.00" height="9.80" fill="#1dba82"/>
<rect x="844.00" y="381.00" width="5.00" height="8.60" fill="#1dba82"/>
<rect x="854.00" y="356.00" width="1.00" height="26.60" fill="#1dba82"/>
<rect x="852.00" y="371.00" width="5.00" height="9.60" fill="#1dba82"/>
<rect x="861.00" y="324.00" width="1.00" height="47.00" fill="#1dba82"/>
<rect x="859.00" y="329.00" width="5.00" height="42.00" fill="#1dba82"/>
<rect x="869.00" y="318.90" width="1.00" height="24.80" fill="#ee4b4a"/>
<rect x="867.00" y="329.00" width="5.00" height="6.40" fill="#ee4b4a"/>
<rect x="877.00" y="332.00" width="1.00" height="13.50" fill="#ee4b4a"/>
<rect x="875.00" y="336.00" width="5.00" height="6.00" fill="#ee4b4a"/>
<rect x="885.00" y="336.00" width="1.00" height="8.30" fill="#ee4b4a"/>
<rect x="883.00" y="342.50" width="5.00" height="1.00" fill="#ee4b4a"/>
<rect x="893.00" y="340.00" width="1.00" height="5.80" fill="#ee4b4a"/>
<rect x="891.00" y="344.00" width="5.00" height="1.00" fill="#ee4b4a"/>
<rect x="901.00" y="343.00" width="1.00" height="25.00" fill="#ee4b4a"/>
<rect x="899.00" y="344.00" width="5.00" height="17.40" fill="#ee4b4a"/>
<rect x="908.00" y="356.70" width="1.00" height="10.10" fill="#1dba82"/>
<rect x="906.00" y="360.50" width="5.00" height="1.00" fill="#1dba82"/>
<rect x="916.00" y="359.00" width="1.00" height="14.80" fill="#ee4b4a"/>
<rect x="914.00" y="360.00" width="5.00" height="9.70" fill="#ee4b4a"/>
<rect x="924.00" y="366.00" width="1.00" height="5.00" fill="#1dba82"/>
<rect x="922.00" y="368.50" width="5.00" height="1.20" fill="#1dba82"/>
<rect x="932.00" y="366.80" width="1.00" height="8.80" fill="#ee4b4a"/>
<rect x="930.00" y="369.00" width="5.00" height="3.70" fill="#ee4b4a"/>
<rect x="940.00" y="367.30" width="1.00" height="17.70" fill="#ee4b4a"/>
<rect x="938.00" y="373.00" width="5.00" height="4.40" fill="#ee4b4a"/>
<rect x="948.00" y="370.00" width="1.00" height="13.90" fill="#1dba82"/>
<rect x="946.00" y="371.40" width="5.00" height="6.00" fill="#1dba82"/>
<rect x="955.00" y="359.00" width="1.00" height="16.00" fill="#1dba82"/>
<rect x="953.00" y="365.90" width="5.00" height="5.10" fill="#1dba82"/>
<rect x="963.00" y="366.00" width="1.00" height="24.00" fill="#ee4b4a"/>
<rect x="961.00" y="366.00" width="5.00" height="17.00" fill="#ee4b4a"/>
<rect x="971.00" y="383.00" width="1.00" height="24.00" fill="#ee4b4a"/>
<rect x="969.00" y="383.00" width="5.00" height="23.00" fill="#ee4b4a"/>
<rect x="979.00" y="388.00" width="1.00" height="18.60" fill="#1dba82"/>
<rect x="977.00" y="390.00" width="5.00" height="16.00" fill="#1dba82"/>
<rect x="987.00" y="371.90" width="1.00" height="28.10" fill="#1dba82"/>
<rect x="985.00" y="386.00" width="5.00" height="4.00" fill="#1dba82"/>
<rect x="995.00" y="375.00" width="1.00" height="14.00" fill="#1dba82"/>
<rect x="993.00" y="379.30" width="5.00" height="6.50" fill="#1dba82"/>
<rect x="1002.00" y="368.00" width="1.00" height="19.60" fill="#1dba82"/>
<rect x="1000.00" y="369.00" width="5.00" height="9.80" fill="#1dba82"/>
<rect x="1010.00" y="353.90" width="1.00" height="22.10" fill="#1dba82"/>
<rect x="1008.00" y="358.00" width="5.00" height="10.80" fill="#1dba82"/>
<rect x="1018.00" y="351.80" width="1.00" height="18.90" fill="#ee4b4a"/>
<rect x="1016.00" y="358.00" width="5.00" height="7.90" fill="#ee4b4a"/>
<rect x="1026.00" y="358.00" width="1.00" height="14.80" fill="#ee4b4a"/>
<rect x="1024.00" y="366.30" width="5.00" height="2.70" fill="#ee4b4a"/>
<rect x="1034.00" y="361.00" width="1.00" height="9.00" fill="#1dba82"/>
<rect x="1032.00" y="361.00" width="5.00" height="7.80" fill="#1dba82"/>
</g>
<polyline points="0.00,501.00 71.00,510.00 130.00,511.30 177.30,517.80 224.50,525.50 259.40,530.80 270.00,532.00 306.40,535.00 331.00,535.60 359.50,531.00 395.00,528.00 433.70,520.90 478.10,513.20 518.70,505.40 549.60,498.70 580.50,493.80 625.00,483.20 675.00,474.70 776.30,444.80 810.00,437.10 935.00,407.50 979.60,401.50 1033.40,394.50" fill="none" stroke="#cc2a66" stroke-width="1.00" stroke-linejoin="round"/>
<polyline points="3.00,521.00 16.50,525.50 39.00,533.00 56.70,538.00 71.00,538.50 94.50,539.70 118.00,534.00 130.00,533.40 165.40,533.40 177.30,532.00 186.70,533.20 196.00,532.00 212.70,532.20 219.80,531.40 230.40,531.70 236.30,532.60 260.00,532.00 270.00,531.40 300.40,532.30 321.70,531.50 359.50,528.50 395.00,522.80 400.80,521.80 410.50,517.00 439.50,507.40 472.30,495.80 491.60,488.00 526.40,474.50 549.60,465.40 570.40,457.60 603.50,448.80 624.80,443.40 634.50,442.30 658.50,443.40 675.00,444.60 717.30,431.80 752.70,424.70 788.10,420.60 824.00,414.80 853.40,407.00 865.00,399.90 886.50,389.80 909.00,380.30 932.60,377.40 947.50,376.50 955.50,375.10 971.50,375.10 994.40,374.20 1010.60,371.90 1026.50,370.00 1033.40,370.00" fill="none" stroke="#1f78ea" stroke-width="1.00" stroke-linejoin="round"/>
<polyline points="0.00,544.00 16.50,539.00 33.00,541.00 49.60,536.70 71.00,533.00 78.91,531.70 86.74,530.70 94.57,528.60 102.40,524.40 110.23,520.30 118.06,519.40 125.89,517.90 133.72,518.06 141.55,517.76 149.38,520.83 157.21,523.63 165.04,525.93 172.87,529.40 180.70,533.16 188.53,536.76 196.36,539.06 204.19,541.46 212.02,540.90 219.85,540.85 227.68,539.60 235.51,539.30 243.34,539.00 251.17,537.99 259.00,536.93 266.83,536.33 274.66,535.97 282.49,536.07 290.32,535.87 298.15,535.12 305.98,534.20 313.81,530.30 321.64,526.50 329.47,523.34 337.30,518.84 345.13,513.84 352.96,509.18 360.79,505.28 368.62,501.76 376.45,499.16 384.28,497.26 392.11,498.86 399.94,499.06 407.77,493.45 415.60,490.25 423.43,486.95 431.26,482.87 439.09,478.04 446.92,473.16 454.75,468.43 462.58,463.23 470.41,457.83 478.24,453.68 486.07,453.29 493.90,451.69 501.73,451.39 509.56,450.99 517.39,450.72 525.22,449.12 533.05,446.45 540.88,442.14 548.71,438.24 556.54,434.89 564.37,433.64 572.20,432.14 580.03,430.04 587.86,426.52 595.69,423.46 603.52,424.59 611.35,426.15 619.18,429.54 627.01,433.54 634.84,437.02 642.67,440.94 650.50,444.64 658.33,448.59 666.16,454.01 673.99,456.47 681.82,453.04 689.65,447.68 697.48,441.88 705.31,434.78 713.14,428.40 720.97,419.62 728.80,413.27 736.63,406.82 744.46,399.88 752.29,396.08 760.12,394.38 767.95,395.48 775.78,394.50 783.61,394.00 791.44,393.00 799.27,394.11 807.10,393.44 814.93,392.34 822.76,390.67 830.59,387.97 838.42,387.13 846.25,384.73 854.08,383.53 861.91,377.83 869.74,372.87 877.57,368.27 885.40,363.54 893.23,359.24 901.06,357.79 908.89,355.84 916.72,353.85 924.55,352.60 932.38,352.77 940.21,357.61 948.04,361.21 955.87,363.60 963.70,367.55 971.53,373.65 979.36,376.51 987.19,379.06 995.02,380.02 1002.85,380.07 1010.68,378.60 1018.51,377.45 1026.34,377.21 1034.17,376.72" fill="none" stroke="#9a5ec6" stroke-width="1.00" stroke-linejoin="round"/>
<polyline points="0.00,542.60 8.30,539.00 16.50,535.00 24.50,531.40 32.50,533.80 39.76,532.80 47.59,534.00 55.42,537.60 63.25,536.80 71.08,532.80 78.91,530.60 86.74,527.40 94.57,519.60 102.40,512.00 110.23,507.80 118.06,508.20 125.89,508.40 133.72,516.52 141.55,523.52 149.38,533.86 157.21,539.06 165.04,543.46 172.87,542.28 180.70,542.80 188.53,539.66 196.36,539.06 204.19,539.46 212.02,539.52 219.85,538.90 227.68,539.54 235.51,539.54 243.34,538.54 251.17,536.46 259.00,534.96 266.83,533.12 274.66,532.40 282.49,533.60 290.32,535.28 298.15,535.28 305.98,535.28 313.81,528.20 321.64,519.40 329.47,511.40 337.30,502.40 345.13,492.40 352.96,490.16 360.79,491.16 368.62,492.12 376.45,495.92 384.28,502.12 392.11,507.56 399.94,506.96 407.77,494.78 415.60,484.58 423.43,471.78 431.26,458.18 439.09,449.12 446.92,451.54 454.75,452.28 462.58,454.68 470.41,457.48 478.24,458.24 486.07,455.04 493.90,451.10 501.73,448.10 509.56,444.50 517.39,443.20 525.22,443.20 533.05,441.80 540.88,436.18 548.71,431.98 556.54,426.58 564.37,424.08 572.20,422.48 580.03,423.90 587.86,421.06 595.69,420.34 603.52,425.10 611.35,429.82 619.18,435.18 627.01,446.02 634.84,453.70 642.67,456.78 650.50,459.46 658.33,462.00 666.16,462.00 673.99,459.24 681.82,449.30 689.65,435.90 697.48,421.76 705.31,407.56 713.14,397.56 720.97,389.94 728.80,390.64 736.63,391.88 744.46,392.20 752.29,394.60 760.12,398.82 767.95,400.32 775.78,397.12 783.61,395.80 791.44,391.40 799.27,389.40 807.10,386.56 814.93,387.56 822.76,385.54 830.59,384.54 838.42,384.86 846.25,382.90 854.08,379.50 861.91,370.12 869.74,361.20 877.57,351.68 885.40,344.18 893.23,338.98 901.06,345.46 908.89,350.48 916.72,356.02 924.55,361.02 932.38,366.56 940.21,369.76 948.04,371.94 955.87,371.18 963.70,374.08 971.53,380.74 979.36,383.26 987.19,386.18 995.02,388.86 1002.85,386.06 1010.68,376.46 1018.51,371.64 1026.34,368.24 1034.17,364.58" fill="none" stroke="#f0980f" stroke-width="1.00" stroke-linejoin="round"/>
<rect x="-4.00" y="509.50" width="7.00" height="32.50" fill="#2b2e36" rx="3.00"/>
<line x1="0.00" y1="361.50" x2="1128.00" y2="361.50" stroke="#2ebd85" stroke-width="1.00" stroke-dasharray="4 4" stroke-dashoffset="0.8"/>
<rect x="1128.00" y="351.00" width="56.00" height="20.00" fill="#2ebd85" rx="2.00"/>
<text x="1132.20" y="364.40" font-size="12.60" fill="#ffffff" font-weight="bold" textLength="47.80" lengthAdjust="spacingAndGlyphs">76,060.8</text>
<line x1="0.00" y1="555.00" x2="1128.00" y2="555.00" stroke="#7f8592" stroke-width="1.00" stroke-dasharray="4 2" stroke-dashoffset="3.1"/>
<line x1="259.40" y1="266.00" x2="259.40" y2="725.00" stroke="#7f8592" stroke-width="1.00" stroke-dasharray="4 2" stroke-dashoffset="4.9"/>
<rect x="1128.00" y="544.70" width="56.00" height="20.00" fill="#ffffff" rx="2.00"/>
<text x="1132.30" y="558.40" font-size="12.60" fill="#2b2b2b" textLength="47.10" lengthAdjust="spacingAndGlyphs">66,117.4</text>
<rect x="204.30" y="724.70" width="109.10" height="20.20" fill="#ffffff" rx="2.00"/>
<text x="209.30" y="738.30" font-size="13.00" fill="#2b2b2b" textLength="99.60" lengthAdjust="spacingAndGlyphs">2026-04-05 00:00</text>
<text x="1136.20" y="287.80" font-size="12.50" fill="#8a909d" textLength="47.70" lengthAdjust="spacingAndGlyphs">80,000.0</text>
<text x="1136.20" y="326.65" font-size="12.50" fill="#8a909d" textLength="47.70" lengthAdjust="spacingAndGlyphs">78,000.0</text>
<text x="1136.20" y="404.35" font-size="12.50" fill="#8a909d" textLength="47.70" lengthAdjust="spacingAndGlyphs">74,000.0</text>
<text x="1136.20" y="443.20" font-size="12.50" fill="#8a909d" textLength="47.70" lengthAdjust="spacingAndGlyphs">72,000.0</text>
<text x="1136.20" y="482.05" font-size="12.50" fill="#8a909d" textLength="47.70" lengthAdjust="spacingAndGlyphs">70,000.0</text>
<text x="1136.20" y="520.90" font-size="12.50" fill="#8a909d" textLength="47.70" lengthAdjust="spacingAndGlyphs">68,000.0</text>
<text x="1136.40" y="643.60" font-size="12.50" fill="#8a909d" textLength="24.40" lengthAdjust="spacingAndGlyphs">20M</text>
<text x="1136.40" y="673.80" font-size="12.50" fill="#8a909d" textLength="24.40" lengthAdjust="spacingAndGlyphs">12M</text>
<text x="1136.40" y="704.00" font-size="12.50" fill="#8a909d" textLength="17.60" lengthAdjust="spacingAndGlyphs">4M</text>
<text x="67.80" y="741.60" font-size="12.70" fill="#8a909d" textLength="67.60" lengthAdjust="spacingAndGlyphs">04-01 16:00</text>
<text x="381.00" y="741.60" font-size="12.70" fill="#8a909d" textLength="67.60" lengthAdjust="spacingAndGlyphs">04-08 08:00</text>
<text x="537.60" y="741.60" font-size="12.70" fill="#8a909d" textLength="67.60" lengthAdjust="spacingAndGlyphs">04-11 16:00</text>
<text x="694.20" y="741.60" font-size="12.70" fill="#8a909d" textLength="67.60" lengthAdjust="spacingAndGlyphs">04-15 00:00</text>
<text x="850.80" y="741.60" font-size="12.70" fill="#8a909d" textLength="67.60" lengthAdjust="spacingAndGlyphs">04-18 08:00</text>
<text x="1007.40" y="741.60" font-size="12.70" fill="#8a909d" textLength="67.60" lengthAdjust="spacingAndGlyphs">04-21 16:00</text>
<text x="819.20" y="314.80" font-size="11.20" fill="#8a909d" textLength="39.00" lengthAdjust="spacingAndGlyphs">78,249.1</text>
<g stroke="#8a8f9a" stroke-width="1" fill="none"><polyline points="864.5,312.3 869.4,312.3 869.4,317.5"/><polyline points="867.4,315.5 869.4,317.5 871.4,315.5"/></g>
<text x="-6.50" y="587.50" font-size="12.50" fill="#8a909d" textLength="41.20" lengthAdjust="spacingAndGlyphs">74,951.9</text>
<polyline points="9.0,284.0 12.0,287.0 15.0,284.0" fill="none" stroke="#8a8f9a" stroke-width="1.2"/>
<text x="33.60" y="290.00" font-size="13.60" fill="#eaecef" textLength="134.40" lengthAdjust="spacingAndGlyphs" stroke="#eaecef" stroke-width="0.45">Time: 2026-04-05 00:00</text>
<text x="184.90" y="290.00" font-size="13.60" fill="#eaecef" textLength="34.60" lengthAdjust="spacingAndGlyphs" stroke="#eaecef" stroke-width="0.45">Open:</text>
<text x="223.50" y="290.00" font-size="13.60" fill="#e8354f" textLength="47.10" lengthAdjust="spacingAndGlyphs">67,355.4</text>
<text x="287.40" y="290.00" font-size="13.60" fill="#eaecef" textLength="30.20" lengthAdjust="spacingAndGlyphs" stroke="#eaecef" stroke-width="0.45">High:</text>
<text x="321.70" y="290.00" font-size="13.60" fill="#e8354f" textLength="47.00" lengthAdjust="spacingAndGlyphs">67,523.0</text>
<text x="384.80" y="290.00" font-size="13.60" fill="#eaecef" textLength="26.90" lengthAdjust="spacingAndGlyphs" stroke="#eaecef" stroke-width="0.45">Low:</text>
<text x="415.20" y="290.00" font-size="13.60" fill="#e8354f" textLength="46.60" lengthAdjust="spacingAndGlyphs">67,229.1</text>
<text x="478.40" y="290.00" font-size="13.60" fill="#eaecef" textLength="34.60" lengthAdjust="spacingAndGlyphs" stroke="#eaecef" stroke-width="0.45">Close:</text>
<text x="516.50" y="290.00" font-size="13.60" fill="#e8354f" textLength="47.60" lengthAdjust="spacingAndGlyphs">67,262.7</text>
<text x="580.70" y="290.00" font-size="13.60" fill="#eaecef" textLength="46.30" lengthAdjust="spacingAndGlyphs" stroke="#eaecef" stroke-width="0.45">Volume:</text>
<text x="630.50" y="290.00" font-size="13.60" fill="#e8354f" textLength="42.40" lengthAdjust="spacingAndGlyphs">3.396M</text>
<text x="688.70" y="290.00" font-size="13.60" fill="#eaecef" textLength="47.30" lengthAdjust="spacingAndGlyphs" stroke="#eaecef" stroke-width="0.45">Change:</text>
<text x="740.00" y="290.00" font-size="13.60" fill="#e8354f" textLength="38.70" lengthAdjust="spacingAndGlyphs">-0.14%</text>
<polyline points="9.0,317.5 12.0,320.5 15.0,317.5" fill="none" stroke="#8a8f9a" stroke-width="1.2"/>
<text x="33.60" y="323.70" font-size="13.60" fill="#717a89" textLength="84.70" lengthAdjust="spacingAndGlyphs">MA(5,10,30,60)</text>
<text x="135.50" y="323.70" font-size="13.60" fill="#f0980f" textLength="81.30" lengthAdjust="spacingAndGlyphs">MA5: 67,105.9</text>
<text x="233.60" y="323.70" font-size="13.60" fill="#9a5ec6" textLength="87.40" lengthAdjust="spacingAndGlyphs">MA10: 67,011.6</text>
<text x="337.80" y="323.70" font-size="13.60" fill="#1f78ea" textLength="87.60" lengthAdjust="spacingAndGlyphs">MA30: 67,294.2</text>
<text x="442.40" y="323.70" font-size="13.60" fill="#cc2a66" textLength="88.20" lengthAdjust="spacingAndGlyphs">MA60: 67,396.5</text>
<polyline points="9.0,623.2 12.0,626.2 15.0,623.2" fill="none" stroke="#8a8f9a" stroke-width="1.2"/>
<text x="33.10" y="628.90" font-size="12.60" fill="#8b95a5" textLength="23.70" lengthAdjust="spacingAndGlyphs">VOL</text>
<text x="73.10" y="628.90" font-size="12.60" fill="#9c3639" textLength="99.20" lengthAdjust="spacingAndGlyphs">VOLUME: 3.396M</text>
</svg></body></html>
